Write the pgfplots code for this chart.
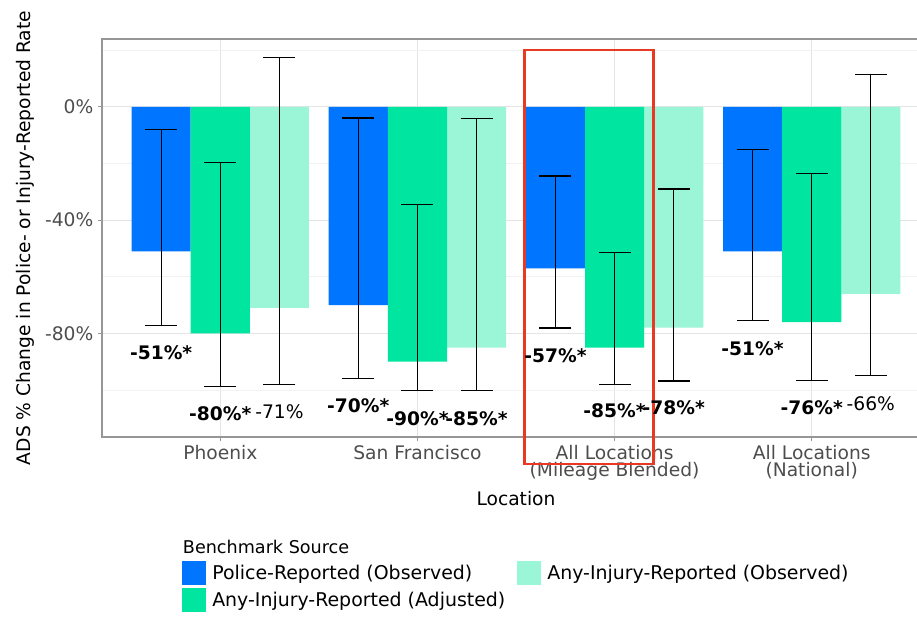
\documentclass[border=0pt]{standalone}
\usepackage{pgfplots}
\pgfplotsset{compat=1.18}
\usepackage{fontspec}
\setmainfont{DejaVu Sans}
\definecolor{cblue}{RGB}{0,117,255}
\definecolor{cgreen}{RGB}{0,230,160}
\definecolor{clight}{RGB}{155,245,215}
\definecolor{tickgray}{RGB}{77,77,77}
\definecolor{gridgray}{RGB}{228,228,228}
\definecolor{minorgray}{RGB}{242,242,242}
\definecolor{bordergray}{RGB}{150,150,150}
\definecolor{boxred}{RGB}{232,58,35}

% x = category position (1..4) plus the dodge offset of the series
\pgfplotstableread{
x y ep em
0.7 -51 42.9 26.3
1.7 -70 66.1 25.8
2.7 -57 32.6 21.1
3.7 -51 35.9 24.4
}\tblue
\pgfplotstableread{
x y ep em
1.0 -80 60.5 18.8
2.0 -90 55.4 10.1
3.0 -85 33.6 13.1
4.0 -76 52.4 20.7
}\tgreen
\pgfplotstableread{
x y ep em
1.3 -71 88.5 27.0
2.3 -85 80.8 15.1
3.3 -78 49.0 18.8
4.3 -66 77.4 29.0
}\tlight

\begin{document}
\begin{tikzpicture}
\clip (-76.5pt,-140.25pt) rectangle (611.25pt,327.75pt);
\begin{axis}[
  at={(0,0)}, anchor=south west,
  scale only axis, width=621pt, height=298.5pt,
  xmin=0.4, xmax=4.6, ymin=-116.6, ymax=24.0,
  clip=false,
  axis line style={bordergray, line width=1pt},
  tick align=outside, major tick length=3pt, minor tick length=0pt,
  tick style={bordergray, line width=0.75pt},
  tick pos=left,
  xtick={1,2,3,4},
  xticklabels={Phoenix, San Francisco, {All Locations\\(Mileage Blended)}, {All Locations\\(National)}},
  ytick={-80,-40,0},
  yticklabels={-80\%,-40\%,0\%},
  minor ytick={-100,-60,-20,20},
  grid=both,
  major grid style={gridgray, line width=0.75pt},
  minor grid style={minorgray, line width=0.5pt},
  tick label style={font=\fontsize{14}{12.5}\selectfont, text=tickgray},
  x tick label style={align=center},
  xlabel={Location},
  ylabel={ADS \% Change in Police- or Injury-Reported Rate},
  label style={font=\fontsize{14}{16}\selectfont, text=black},
  xlabel style={at={(axis description cs:0.5,0)}, anchor=base, yshift=-51pt},
  ylabel style={at={(axis description cs:0,0.5)}, anchor=center, yshift=57.75pt},
  legend columns=2,
  legend style={at={(axis description cs:0,0)}, anchor=north west, xshift=60pt, yshift=-93pt,
    draw=none, fill=none, inner sep=0pt, font=\fontsize{14.2}{16}\selectfont,
    row sep=2.2pt,
    nodes={inner sep=0pt},
    /tikz/every odd column/.append style={column sep=4.5pt},
    /tikz/every even column/.append style={column sep=9pt}},
  legend cell align=left,
  error bars/error bar style={black, line width=0.9pt},
  error bars/error mark options={rotate=90, mark size=12pt, line width=0.9pt, black},
]
\addplot[ybar, bar width=0.3, bar shift=0, fill=cblue, draw=none,
  legend image code/.code={\fill[cblue] (0pt,-9pt) rectangle (18pt,9pt);},
  error bars/.cd, y dir=both, y explicit]
  table[x=x, y=y, y error plus=ep, y error minus=em] {\tblue};
\addlegendentry{Police-Reported (Observed)}
\addplot[ybar, bar width=0.3, bar shift=0, fill=clight, draw=none,
  legend image code/.code={\fill[clight] (0pt,-9pt) rectangle (18pt,9pt);},
  error bars/.cd, y dir=both, y explicit]
  table[x=x, y=y, y error plus=ep, y error minus=em] {\tlight};
\addlegendentry{Any-Injury-Reported (Observed)}
\addplot[ybar, bar width=0.3, bar shift=0, fill=cgreen, draw=none,
  legend image code/.code={\fill[cgreen] (0pt,-9pt) rectangle (18pt,9pt);},
  error bars/.cd, y dir=both, y explicit]
  table[x=x, y=y, y error plus=ep, y error minus=em] {\tgreen};
\addlegendentry{Any-Injury-Reported (Adjusted)}
\addplot[forget plot, only marks, mark=none, nodes near coords, point meta=explicit symbolic,
  every node near coord/.style={anchor=center, font=\fontsize{14}{16}\selectfont, text=black}]
  coordinates {
  (0.7,-86.8) [\textbf{-51\%*}]
  (1.0,-108.2) [\textbf{-80\%*}]
  (1.3,-107.8) [-71\%]
  (1.7,-105.5) [\textbf{-70\%*}]
  (2.0,-110.0) [\textbf{-90\%*}]
  (2.3,-110.0) [\textbf{-85\%*}]
  (2.7,-87.8) [\textbf{-57\%*}]
  (3.0,-107.2) [\textbf{-85\%*}]
  (3.3,-106.2) [\textbf{-78\%*}]
  (3.7,-85.3) [\textbf{-51\%*}]
  (4.0,-106.2) [\textbf{-76\%*}]
  (4.3,-104.8) [-66\%]
  };
\node[anchor=base west, font=\fontsize{13.2}{15}\selectfont, inner sep=0pt]
  at ([xshift=60.5pt, yshift=-87pt]rel axis cs:0,0) {Benchmark Source};
\draw[boxred, line width=2pt] (axis cs:2.543,20.1) rectangle (axis cs:3.198,-126.1);
\end{axis}
\end{tikzpicture}
\end{document}
